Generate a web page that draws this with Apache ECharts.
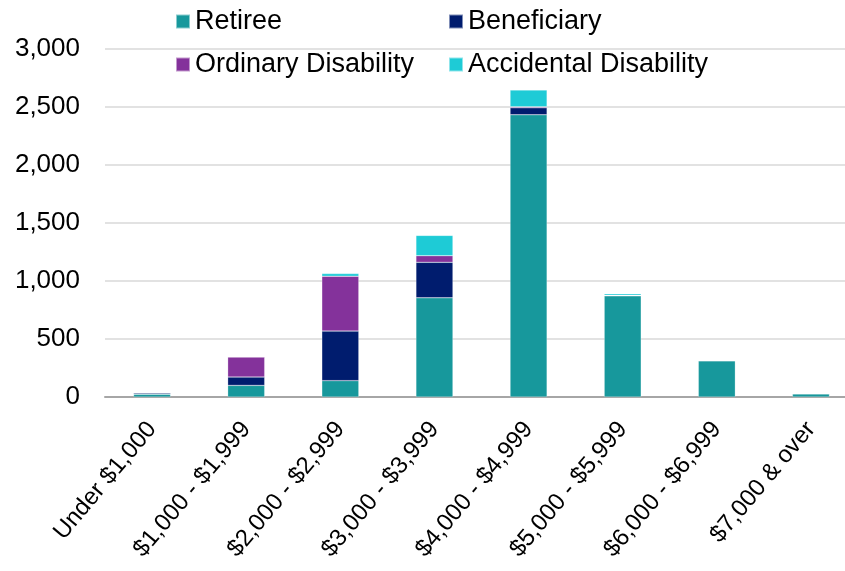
<!DOCTYPE html>
<html><head><meta charset="utf-8">
<script src="https://cdn.jsdelivr.net/npm/echarts@6/dist/echarts.min.js"></script>
<style>html,body{margin:0;padding:0;background:#fff;overflow:hidden;width:845px;height:571px}#c{width:858px;height:571px}</style>
</head><body><div id="c"></div>
<script>
const categories = ['Under $1,000','$1,000 - $1,999','$2,000 - $2,999','$3,000 - $3,999','$4,000 - $4,999','$5,000 - $5,999','$6,000 - $6,999','$7,000 & over'];
const retiree = [24, 100, 141, 855, 2433, 872, 313, 28];
const beneficiary = [10, 72, 427, 306, 60, 3, 0, 0];
const ordinaryDisability = [2, 172, 473, 57, 9, 2, 0, 0];
const accidentalDisability = [4, 6, 23, 175, 144, 13, 0, 0];
const yTicks = [0, 500, 1000, 1500, 2000, 2500, 3000];

const font = 'Liberation Sans, Arial, sans-serif';
const chart = echarts.init(document.getElementById('c'));
function s(name, data, color) {
  return {name, type:'bar', stack:'t', data, barWidth:37,
    itemStyle:{color, borderColor:'rgba(255,255,255,0.5)', borderWidth:0.5}};
}
const legendText = {fontSize:27, lineHeight:26, fontFamily:font, color:'#000'};
chart.setOption({
  animation:false,
  legend:[
    {orient:'vertical', left:175, top:8, padding:0, itemWidth:14, itemHeight:14, itemGap:16, icon:'rect',
     textStyle:legendText, data:['Retiree','Ordinary Disability']},
    {orient:'vertical', left:448, top:8, padding:0, itemWidth:14, itemHeight:14, itemGap:16, icon:'rect',
     textStyle:legendText, data:['Beneficiary','Accidental Disability']}
  ],
  grid:{left:105, right:0, top:49, bottom:174, containLabel:false},
  xAxis:{type:'category', data:categories,
    axisLine:{lineStyle:{color:'#a6a6a6', width:2}}, axisTick:{show:false},
    axisLabel:{rotate:50, interval:0, fontSize:24, fontFamily:font, color:'#000', margin:28}},
  yAxis:{type:'value', min:yTicks[0], max:yTicks[yTicks.length-1], interval:500,
    axisLine:{show:false}, axisTick:{show:false},
    splitLine:{lineStyle:{color:'#d9d9d9', width:1.5}},
    axisLabel:{fontSize:26, fontFamily:font, color:'#000', margin:25,
      formatter:v=>v.toLocaleString('en-US')}},
  series:[
    s('Retiree', retiree, '#17989C'),
    s('Beneficiary', beneficiary, '#001C6E'),
    s('Ordinary Disability', ordinaryDisability, '#84329B'),
    s('Accidental Disability', accidentalDisability, '#1ECBD6')
  ]
});
</script></body></html>
